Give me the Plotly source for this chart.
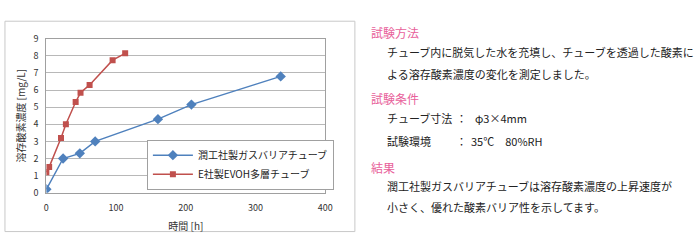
import plotly.graph_objects as go

W, H = 700, 248

blue_name = "潤工社製ガスバリアチューブ"
blue_x = [0, 24, 48, 70, 160, 208, 336]
blue_y = [0.2, 2.0, 2.3, 3.0, 4.3, 5.15, 6.8]

red_name = "E社製EVOH多層チューブ"
red_x = [0, 4, 21, 28, 42, 49, 62, 95, 113]
red_y = [1.2, 1.5, 3.2, 4.0, 5.3, 5.85, 6.3, 7.75, 8.15]

x_title = "時間 [h]"
y_title = "溶存酸素濃度 [mg/L]"

headings = ["試験方法", "試験条件", "結果"]
body1 = ["チューブ内に脱気した水を充填し、チューブを透過した酸素に",
         "よる溶存酸素濃度の変化を測定しました。"]
cond_labels = ["チューブ寸法", "試験環境"]
cond_values = ["φ3×4mm", "35℃　80%RH"]
body3 = ["潤工社製ガスバリアチューブは溶存酸素濃度の上昇速度が",
         "小さく、優れた酸素バリア性を示してます。"]

FONT = "Noto Sans CJK JP"

def px(x):
    return x / W

def py(y):
    return 1 - y / H

fig = go.Figure()
fig.add_trace(go.Scatter(x=blue_x, y=blue_y, name=blue_name, mode="lines+markers",
                         line=dict(color="#4F81BD", width=1.5),
                         marker=dict(symbol="diamond", size=8, color="#4F81BD")))
fig.add_trace(go.Scatter(x=red_x, y=red_y, name=red_name, mode="lines+markers",
                         line=dict(color="#C0504D", width=1.5),
                         marker=dict(symbol="square", size=6, color="#C0504D")))

axis_common = dict(showline=True, mirror=True, linecolor="#a0a0a0", linewidth=1,
                   ticks="", zeroline=False,
                   tickfont=dict(family=FONT, size=9, color="#333"))

fig.update_xaxes(domain=[px(45), px(328)], range=[0, 400], dtick=100,
                 showgrid=False, ticklabelstandoff=6,
                 title=dict(text=x_title, font=dict(family=FONT, size=10, color="#333"), standoff=10),
                 **axis_common)
fig.update_yaxes(domain=[py(196), py(33.5)], range=[0, 9], dtick=1,
                 showgrid=True, gridcolor="#b8b8b8", gridwidth=1, ticklabelstandoff=5,
                 title=dict(text=y_title, font=dict(family=FONT, size=10, color="#333"), standoff=6),
                 **axis_common)

shapes = [dict(type="rect", xref="paper", yref="paper",
               x0=px(3), x1=px(358), y0=py(237), y1=py(15),
               line=dict(color="#c8c8c8", width=1))]

ann = []
def add_text(text, x, y, size=11, color="#222"):
    ann.append(dict(text=text, xref="paper", yref="paper", x=px(x), y=py(y),
                    xanchor="left", yanchor="middle", showarrow=False,
                    font=dict(family=FONT, size=size, color=color)))

pink = "#E8609A"
add_text(headings[0], 372, 27, 12, pink)
add_text(body1[0], 389, 47)
add_text(body1[1], 389, 71)
add_text(headings[1], 372, 97, 12, pink)
add_text(cond_labels[0], 389, 117)
add_text("：", 459, 117)
add_text(cond_values[0], 478, 117)
add_text(cond_labels[1], 389, 141)
add_text("：", 459, 141)
add_text(cond_values[1], 474, 141)
add_text(headings[2], 372, 169, 12, pink)
add_text(body3[0], 389, 189)
add_text(body3[1], 389, 211)

fig.update_layout(width=W, height=H, margin=dict(l=0, r=0, t=0, b=0),
                  paper_bgcolor="white", plot_bgcolor="white",
                  shapes=shapes, annotations=ann,
                  legend=dict(x=px(147), y=py(140), xanchor="left", yanchor="top",
                              bgcolor="white", bordercolor="#a0a0a0", borderwidth=1,
                              font=dict(family=FONT, size=10, color="#222"),
                              tracegroupgap=4, itemwidth=40))

fig.write_html("out.html")
